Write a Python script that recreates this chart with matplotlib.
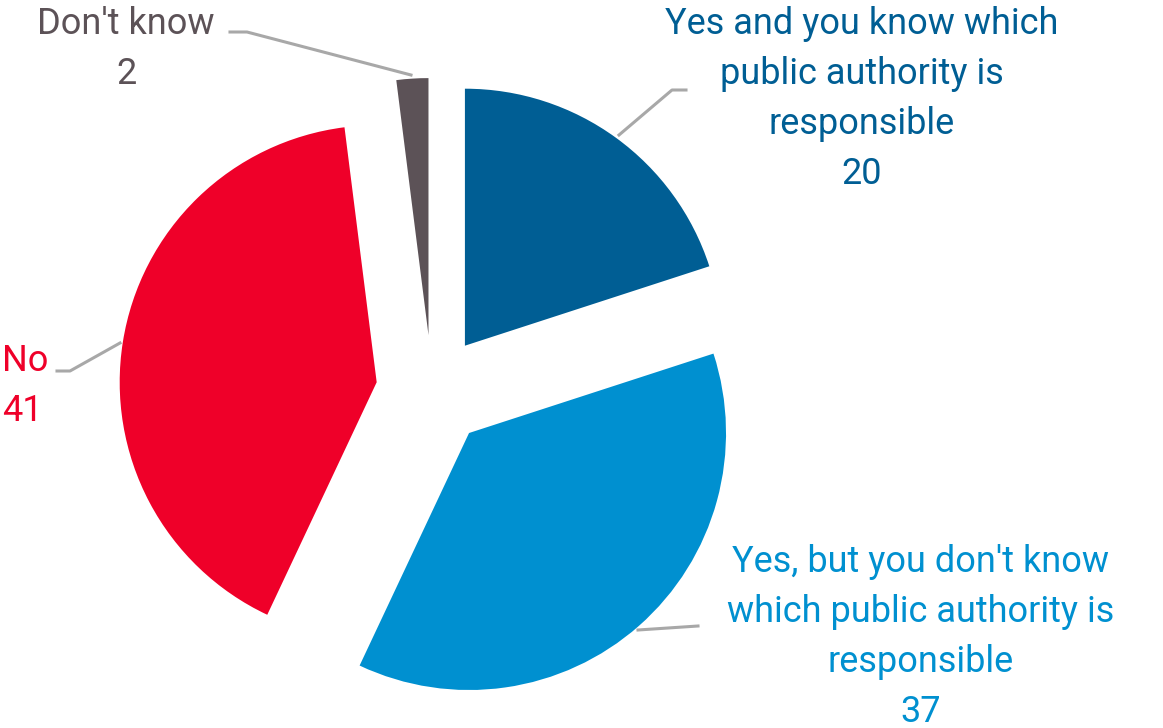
import matplotlib.pyplot as plt
import numpy as np

# data
labels = ["Yes and you know which\npublic authority is\nresponsible",
          "Yes, but you don't know\nwhich public authority is\nresponsible",
          "No",
          "Don't know"]
values = [20, 37, 41, 2]
colors = ["#005e94", "#0090d0", "#ef0029", "#5c5257"]

W, H = 1163, 728
plt.rcParams['font.family'] = ['Roboto', 'DejaVu Sans']

fig = plt.figure(figsize=(W / 100, H / 100), dpi=100)
ax = fig.add_axes([0, 0, 1, 1])

def py(y):
    # pixel row -> data y
    return H - y

# explode offset is in data units (pixels here)
ax.pie(values, colors=colors, startangle=90, counterclock=False,
       radius=257, center=(432, py(391)), explode=[56] * 4,
       wedgeprops=dict(linewidth=0), frame=True)
ax.set_xlim(0, W)
ax.set_ylim(0, H)
ax.set_aspect('equal')
ax.axis('off')

lc = "#a8a8a8"
# leader lines
ax.plot([619, 672, 686], [py(135), py(90), py(90)], color=lc, lw=2.2)
ax.plot([638, 698], [py(630), py(626)], color=lc, lw=2.2)
ax.plot([57, 70, 120], [py(371), py(371), py(343)], color=lc, lw=2.2)
ax.plot([230, 247, 411], [py(32), py(32), py(75)], color=lc, lw=2.2)

fs = 26
ls = 1.5
ax.text(862, py(6), labels[0] + "\n" + str(values[0]), color=colors[0],
        fontsize=fs, ha='center', va='top', linespacing=ls)
ax.text(921, py(544), labels[1] + "\n" + str(values[1]), color=colors[1],
        fontsize=fs, ha='center', va='top', linespacing=ls)
ax.text(2, py(343), labels[2] + "\n" + str(values[2]), color=colors[2],
        fontsize=fs, ha='left', va='top', linespacing=ls)
ax.text(126, py(6), labels[3] + "\n" + str(values[3]), color=colors[3],
        fontsize=fs, ha='center', va='top', linespacing=ls)

fig.savefig('out.png', dpi=100)
